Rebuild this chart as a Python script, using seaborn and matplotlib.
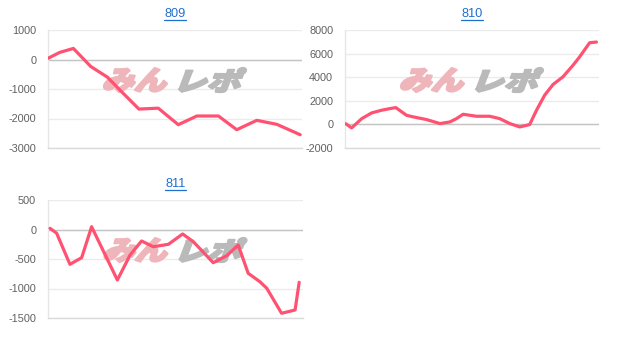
import matplotlib
matplotlib.use("Agg")
import matplotlib.pyplot as plt
import seaborn as sns
import pandas as pd
from matplotlib.textpath import TextPath
from matplotlib.patches import PathPatch
from matplotlib.font_manager import FontProperties
import matplotlib.transforms as mtransforms
from matplotlib.lines import Line2D

# ---------------- data ----------------
titles = ["809", "810", "811"]

x809 = [0, 4.6, 10.0, 16.8, 23.4, 28.6, 35.8, 43.4, 51.3, 58.6, 67.1, 74.3, 82.2, 90.1, 99.3]
y809 = [40, 240, 375, -235, -600, -1060, -1680, -1650, -2210, -1915, -1915, -2380, -2062, -2198, -2550]

x810 = [0.3, 2.6, 6.6, 10.5, 14.4, 17.7, 20.0, 24.2, 26.9, 32.1, 37.4, 41.3, 43.9, 46.5, 49.1,
        51.8, 57.0, 60.9, 64.9, 68.8, 72.7, 75.4, 78.6, 81.9, 85.8, 89.8, 92.4, 96.3, 99.0]
y810 = [60, -300, 490, 975, 1200, 1340, 1425, 775, 635, 410, 70, 210, 490, 860, 775,
        690, 690, 490, 70, -215, -15, 1200, 2475, 3380, 4030, 5020, 5730, 6920, 6980]

x811 = [0.8, 3.4, 8.6, 13.2, 17.1, 27.2, 32.2, 36.7, 41.3, 47.2, 52.8, 57.0, 64.8, 70.1,
        74.6, 78.5, 83.1, 85.8, 91.6, 96.9, 98.5]
y811 = [20, -64, -590, -478, 47, -856, -432, -195, -292, -251, -76, -207, -563, -444,
        -263, -742, -885, -997, -1420, -1364, -895]

yticks809 = [1000, 0, -1000, -2000, -3000]
yticks810 = [8000, 6000, 4000, 2000, 0, -2000]
yticks811 = [500, 0, -500, -1000, -1500]

watermark_left = "みん"
watermark_right = "レポ"

# ---------------- style ----------------
sns.set_style("white")
plt.rcParams['font.family'] = ['Liberation Sans', 'DejaVu Sans']

W, H = 629, 351
fig = plt.figure(figsize=(W / 100, H / 100), dpi=100)

LINE_COLOR = "#ff5272"
TITLE_COLOR = "#1f6fd0"

panels = [
    (titles[0], x809, y809, yticks809, (48, 30, 302, 148)),
    (titles[1], x810, y810, yticks810, (345, 30, 599, 148)),
    (titles[2], x811, y811, yticks811, (48, 200, 303, 318)),
]

fp = FontProperties(family="Noto Sans CJK JP", weight="black")


def fit_path(text, box, skew=16):
    p = TextPath((0, 0), text, size=30, prop=fp)
    p = p.transformed(mtransforms.Affine2D().skew_deg(skew, 0))
    ext = p.get_extents()
    x0, y0, x1, y1 = box
    tr = (mtransforms.Affine2D().translate(-ext.x0, -ext.y0)
          .scale((x1 - x0) / ext.width, (y1 - y0) / ext.height)
          .translate(x0, y0))
    return p.transformed(tr)


renderer = fig.canvas.get_renderer()

for title, xs, ys, ticks, (l, t, r, b) in panels:
    ax = fig.add_axes([l / W, 1 - b / H, (r - l) / W, (b - t) / H])
    df = pd.DataFrame({"x": xs, "y": ys})
    ax.grid(axis="y", color="#ebebeb", lw=1)
    ax.set_axisbelow(True)
    ax.axhline(0, color="#c4c4c4", lw=1, zorder=1)
    sns.lineplot(data=df, x="x", y="y", ax=ax, color=LINE_COLOR, lw=2.3, zorder=3)
    ax.set_xlim(0, 100)
    ax.set_ylim(min(ticks), max(ticks))
    ax.set_yticks(ticks)
    ax.set_yticklabels([str(v) for v in ticks])
    ax.set_xticks([])
    ax.set_xlabel("")
    ax.set_ylabel("")
    for s in ["top", "right"]:
        ax.spines[s].set_visible(False)
    ax.spines["left"].set_color("#e6e6e6")
    ax.spines["bottom"].set_color("#dadada")
    ax.spines["left"].set_linewidth(1)
    ax.spines["bottom"].set_linewidth(1)
    ax.tick_params(axis="y", length=7, width=1, color="#e3e3e3",
                   labelsize=7.8, labelcolor="#606060", pad=1.5)

    # watermark (display pixel coords, origin bottom-left)
    cx = (l + r) / 2
    top_disp = H - t
    ybox = (top_disp - 62, top_disp - 38)
    p1 = fit_path(watermark_left, (cx - 71, ybox[0], cx - 8, ybox[1]))
    p2 = fit_path(watermark_right, (cx + 4, ybox[0], cx + 71, ybox[1]))
    ax.add_patch(PathPatch(p1, transform=mtransforms.IdentityTransform(),
                           facecolor="#eeb6ba", edgecolor="#eeb6ba", lw=1.6,
                           joinstyle="round", zorder=2, clip_on=False))
    ax.add_patch(PathPatch(p2, transform=mtransforms.IdentityTransform(),
                           facecolor="#bababa", edgecolor="#bababa", lw=1.6,
                           joinstyle="round", zorder=2, clip_on=False))

    # title with underline
    tx = (l + r) / 2 / W
    ty = 1 - (t - 16) / H
    txt = fig.text(tx, ty, title, ha="center", va="center", fontsize=9.2, color=TITLE_COLOR)
    bb = txt.get_window_extent(renderer)
    uy = (H - (t - 10.5)) / H
    fig.add_artist(Line2D([bb.x0 / W, bb.x1 / W], [uy, uy], color=TITLE_COLOR, lw=0.9,
                          transform=fig.transFigure))

fig.savefig("out.png", dpi=100)
